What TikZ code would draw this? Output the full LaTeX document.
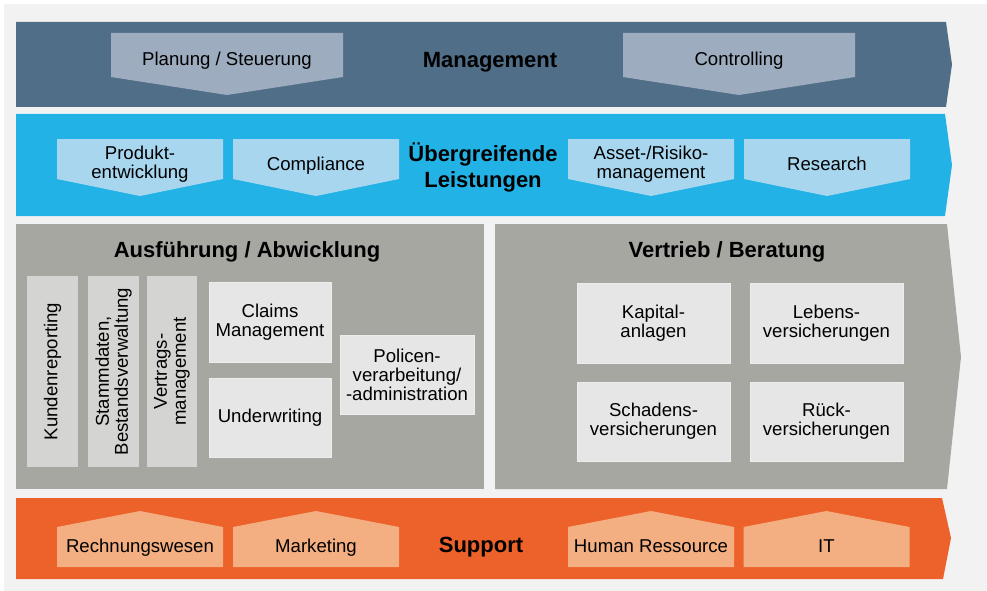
\documentclass[tikz,border=0pt]{standalone}
\usepackage{fontspec}
\setmainfont{Liberation Sans}
\definecolor{bgc}{HTML}{F2F2F2}
\definecolor{mgmt}{HTML}{516E88}
\definecolor{mgmtl}{HTML}{9EACBF}
\definecolor{bluec}{HTML}{23B2E6}
\definecolor{bluel}{HTML}{A8D6EF}
\definecolor{grayc}{HTML}{A7A7A2}
\definecolor{vertc}{HTML}{D4D4D2}
\definecolor{boxc}{HTML}{E6E6E6}
\definecolor{orangec}{HTML}{ED612A}
\definecolor{orangel}{HTML}{F3AE82}
\tikzset{
  lbl/.style={inner sep=0pt, align=center, text=black, font=\fontsize{18.6}{19}\selectfont},
  ttl/.style={inner sep=0pt, align=center, text=black, font=\fontsize{22}{26}\selectfont\bfseries},
  vbox/.style={lbl, fill=vertc, rotate=90, minimum height=51pt, minimum width=191pt},
  wbox/.style={lbl, fill=boxc, draw=boxc!70!white, line width=0.6pt},
}
\begin{document}
\begin{tikzpicture}[x=1pt,y=-1pt]
\useasboundingbox (0,0) rectangle (987,591);
\fill[white] (0,0) rectangle (987,591);
\fill[bgc] (4,4) rectangle (987,591);
% Management band
\fill[mgmt] (16,22) -- (946,22) -- (952,64.5) -- (946,107) -- (16,107) -- cycle;
\fill[mgmtl] (111,33) -- (343,33) -- (343,77) -- (227,95) -- (111,77) -- cycle;
\fill[mgmtl] (623,33) -- (855,33) -- (855,77) -- (739,95) -- (623,77) -- cycle;
\node[lbl] (plan) at (227,61) {Planung / Steuerung};
\node[lbl] (ctrl) at (739,61) {Controlling};
\node[ttl] (mgt) at (490,62.5) {Management};
% Uebergreifende band
\fill[bluec] (16,114) -- (945,114) -- (952,165) -- (945,216) -- (16,216) -- cycle;
\foreach \cx in {140,316,651,827}{
  \fill[bluel] (\cx-83,139) -- (\cx+83,139) -- (\cx+83,179) -- (\cx,196) -- (\cx-83,179) -- cycle;
}
\node[lbl] (prod) at (140,164) {Produkt-\\entwicklung};
\node[lbl] (comp) at (316,165.5) {Compliance};
\node[lbl] (asset) at (651,164) {Asset-/Risiko-\\management};
\node[lbl] (res) at (827,164) {Research};
\node[ttl] (ueb) at (483,167) {Übergreifende\\Leistungen};
% Middle
\fill[grayc] (16,224) rectangle (484,489);
\fill[grayc] (495,224) -- (947,224) -- (961,357) -- (947,489) -- (495,489) -- cycle;
\node[ttl] (ausf) at (247,252) {Ausführung / Abwicklung};
\node[ttl] (vert) at (727,252) {Vertrieb / Beratung};
\node[vbox] (kund) at (52.5,371.5) {Kundenreporting};
\node[vbox] (stamm) at (113.5,371.5) {Stammdaten,\\Bestandsverwaltung};
\node[vbox, minimum height=50pt] (vertr) at (172,371.5) {Vertrags-\\management};
\node[wbox, minimum width=122pt, minimum height=80pt] (claims) at (270,322) {Claims\\Management};
\node[wbox, minimum width=122pt, minimum height=79pt] (under) at (270,417.5) {Underwriting};
\node[wbox, minimum width=134pt, minimum height=79pt] (pol) at (407,374.5) {Policen-\\verarbeitung/\\-administration};
\node[wbox, minimum width=153pt, minimum height=80pt] (kap) at (653.5,323) {Kapital-\\anlagen};
\node[wbox, minimum width=153pt, minimum height=80pt] (leb) at (826.5,323) {Lebens-\\versicherungen};
\node[wbox, minimum width=153pt, minimum height=79pt] (scha) at (653.5,421.5) {Schadens-\\versicherungen};
\node[wbox, minimum width=153pt, minimum height=79pt] (rueck) at (826.5,421.5) {Rück-\\versicherungen};
% Support band
\fill[orangec] (16,498) -- (942,498) -- (951,538) -- (943,579) -- (16,579) -- cycle;
\foreach \cx in {140,316,651,826.5}{
  \fill[orangel] (\cx-83,567) -- (\cx-83,527) -- (\cx,511) -- (\cx+83,527) -- (\cx+83,567) -- cycle;
}
\node[lbl] (rech) at (140,547.5) {Rechnungswesen};
\node[lbl] (mark) at (316,547.5) {Marketing};
\node[lbl] (hr) at (651,546) {Human Ressource};
\node[lbl] (it) at (826.5,546) {IT};
\node[ttl] (sup) at (481,547) {Support};
\end{tikzpicture}
\end{document}
